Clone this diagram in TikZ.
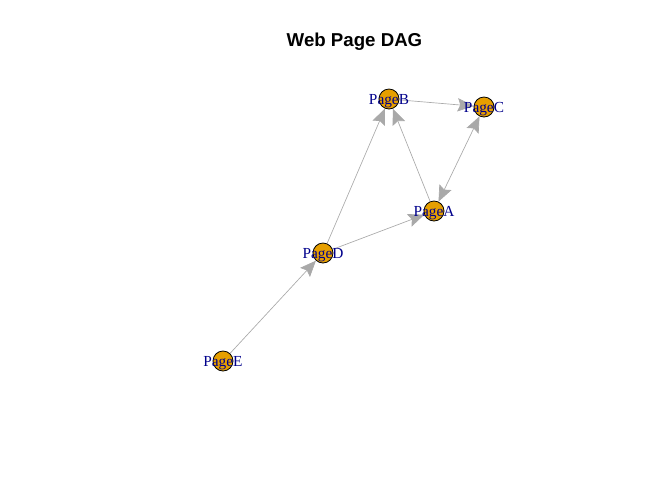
\documentclass[tikz,border=0pt]{standalone}
\usepackage{fontspec}
\setmainfont{Liberation Serif}
\newfontfamily\titlefont{Liberation Sans}
\usetikzlibrary{arrows.meta}
\definecolor{vfill}{HTML}{E69F00}
\definecolor{egray}{HTML}{A9A9A9}
\definecolor{lblue}{HTML}{00008B}
\begin{document}
\begin{tikzpicture}[x=0.75pt,y=-0.75pt,
  vtx/.style={circle,draw=black,line width=0.6pt,fill=vfill,minimum size=15pt,inner sep=0pt},
  vlab/.style={text=lblue,font=\fontsize{11.5pt}{12pt}\selectfont,inner sep=0pt,yshift=-1.5pt},
  edge/.style={draw=egray,line width=0.5pt,-{Stealth[length=12pt,width=10pt,inset=2pt]}},
  bedge/.style={draw=egray,line width=0.5pt,{Stealth[length=12pt,width=10pt,inset=2pt]}-{Stealth[length=12pt,width=10pt,inset=2pt]}}]
\useasboundingbox (0,0) rectangle (672,480);
\node[font=\titlefont\bfseries\fontsize{14pt}{16pt}\selectfont,anchor=base] (title) at (354.5,46) {Web Page DAG};
\node[vtx] (B) at (389,99) {};
\node[vtx] (C) at (484,107) {};
\node[vtx] (A) at (434,211) {};
\node[vtx] (D) at (323,253) {};
\node[vtx] (E) at (223,361) {};
\draw[edge] (E) -- (D);
\draw[edge] (D) -- (B);
\draw[edge] (D) -- (A);
\draw[edge] (A) -- (B);
\draw[edge] (B) -- (C);
\draw[bedge] (A) -- (C);
\node[vlab] (lB) at (B) {PageB};
\node[vlab] (lC) at (C) {PageC};
\node[vlab] (lA) at (A) {PageA};
\node[vlab] (lD) at (D) {PageD};
\node[vlab] (lE) at (E) {PageE};
\end{tikzpicture}
\end{document}
